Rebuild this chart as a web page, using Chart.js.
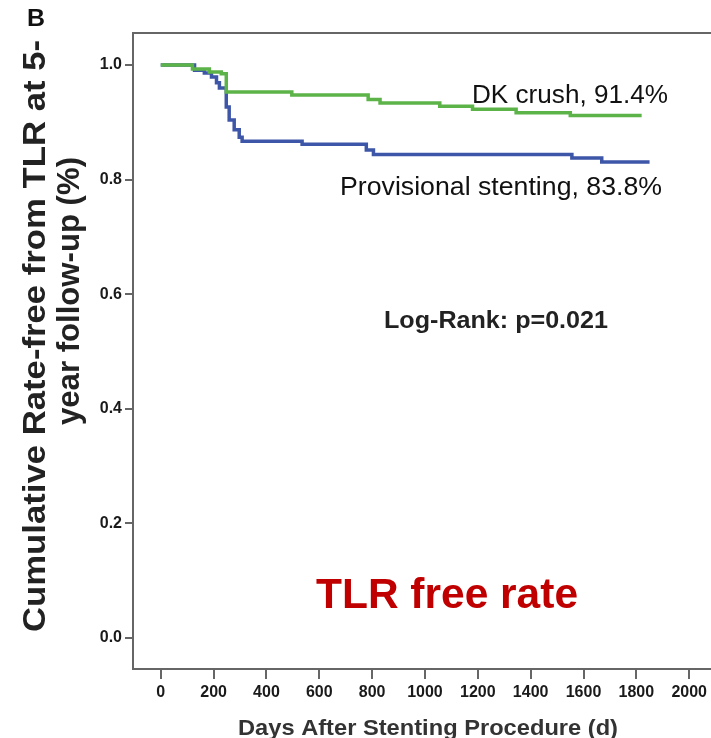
<!DOCTYPE html>
<html lang="en">
<head>
  <meta charset="UTF-8" />
  <title>TLR free rate</title>
  <script src="https://cdn.jsdelivr.net/npm/chart.js"></script>
  <style>
    body {
      margin: 0;
      background-color: #fff;
    }
    .wrap {
      width: 711px;
      height: 738px;
    }
  </style>
</head>
<body>
  <div class="wrap">
    <canvas id="kmChart" width="711" height="738"></canvas>
  </div>

  <script>
    // Kaplan-Meier steps (days, TLR-free rate)
    const dkDays = [0, 120, 184, 229, 248, 496, 785, 830, 1056, 1180, 1345, 1550, 1820];
    const dkRate = [1.0, 0.993, 0.988, 0.985, 0.953, 0.948, 0.940, 0.934, 0.928, 0.923, 0.917, 0.912, 0.912];

    const provDays = [0, 128, 165, 192, 211, 222, 248, 259, 278, 297, 308, 535, 778, 805, 1556, 1669, 1850];
    const provRate = [1.0, 0.991, 0.986, 0.979, 0.969, 0.960, 0.927, 0.904, 0.887, 0.874, 0.867, 0.862, 0.852, 0.844, 0.838, 0.831, 0.831];

    const xTicks = [0, 200, 400, 600, 800, 1000, 1200, 1400, 1600, 1800, 2000];
    const yTicks = [0, 0.2, 0.4, 0.6, 0.8, 1.0];

    const toPoints = (xs, ys) => xs.map((x, i) => ({ x, y: ys[i] }));

    // draw text, stretched so it fills a given length
    function fitText(ctx, text, x, y, font, len, color, rot) {
      ctx.save();
      ctx.font = font;
      ctx.fillStyle = color;
      ctx.textAlign = 'center';
      ctx.textBaseline = 'alphabetic';
      ctx.translate(x, y);
      if (rot) ctx.rotate(rot);
      const w = ctx.measureText(text).width;
      ctx.scale(len / w, 1);
      ctx.fillText(text, 0, 0);
      ctx.restore();
    }

    const extras = {
      id: 'extras',
      beforeDatasetsDraw(chart) {
        const { ctx, chartArea: a } = chart;
        ctx.save();
        ctx.strokeStyle = '#666';
        ctx.lineWidth = 2;
        ctx.beginPath();
        ctx.moveTo(a.right + 5, a.top);
        ctx.lineTo(a.left, a.top);
        ctx.lineTo(a.left, a.bottom);
        ctx.lineTo(a.right + 5, a.bottom);
        ctx.stroke();
        ctx.restore();
      },
      afterDraw(chart) {
        const ctx = chart.ctx;
        const sans = '"Liberation Sans", Arial, sans-serif';
        fitText(ctx, 'B', 36, 26, 'bold 24px ' + sans, 18, '#111');
        fitText(ctx, 'DK crush, 91.4%', 570, 103, '25px ' + sans, 196, '#111');
        fitText(ctx, 'Provisional stenting, 83.8%', 501, 195, '25px ' + sans, 322, '#111');
        fitText(ctx, 'Log-Rank: p=0.021', 496, 328, 'bold 24px ' + sans, 224, '#222');
        fitText(ctx, 'TLR free rate', 447, 608, 'bold 42px ' + sans, 262, '#c00000');
        fitText(ctx, 'Days After Stenting Procedure (d)', 428, 735, 'bold 22px ' + sans, 380, '#333');
        fitText(ctx, 'Cumulative Rate-free from TLR at 5-', 45, 336, 'bold 31px ' + sans, 592, '#222', -Math.PI / 2);
        fitText(ctx, 'year follow-up (%)', 79, 291, 'bold 31px ' + sans, 268, '#222', -Math.PI / 2);
      }
    };

    const tickFont = { family: '"Liberation Sans", Arial, sans-serif', size: 16, weight: 'bold' };

    new Chart(document.getElementById('kmChart'), {
      type: 'scatter',
      data: {
        datasets: [
          {
            label: 'DK crush',
            data: toPoints(dkDays, dkRate),
            borderColor: 'rgb(92, 180, 72)',
            borderWidth: 3.5,
            showLine: true,
            stepped: 'before',
            pointRadius: 0
          },
          {
            label: 'Provisional stenting',
            data: toPoints(provDays, provRate),
            borderColor: 'rgb(62, 86, 168)',
            borderWidth: 3.5,
            showLine: true,
            stepped: 'before',
            pointRadius: 0
          }
        ]
      },
      options: {
        responsive: false,
        animation: false,
        layout: { padding: { top: 33, right: 0, left: 0, bottom: 0 } },
        plugins: {
          legend: { display: false },
          tooltip: { enabled: false }
        },
        scales: {
          x: {
            type: 'linear',
            min: -105,
            max: 2068,
            afterBuildTicks: s => { s.ticks = xTicks.map(v => ({ value: v })); },
            afterFit: s => { s.height = 69; },
            border: { display: false },
            grid: { drawOnChartArea: false, drawTicks: true, tickLength: 10, color: '#666', lineWidth: 2 },
            ticks: {
              autoSkip: false,
              maxRotation: 0,
              padding: 4,
              color: '#1a1a1a',
              callback: v => String(v),
              font: tickFont
            }
          },
          y: {
            min: -0.054,
            max: 1.056,
            afterBuildTicks: s => { s.ticks = yTicks.map(v => ({ value: v })); },
            afterFit: s => { s.width = 133; },
            border: { display: false },
            grid: { drawOnChartArea: false, drawTicks: true, tickLength: 8, color: '#666', lineWidth: 2 },
            ticks: {
              padding: 3,
              color: '#1a1a1a',
              callback: v => v.toFixed(1),
              font: tickFont
            }
          }
        }
      },
      plugins: [extras]
    });
  </script>
</body>
</html>
